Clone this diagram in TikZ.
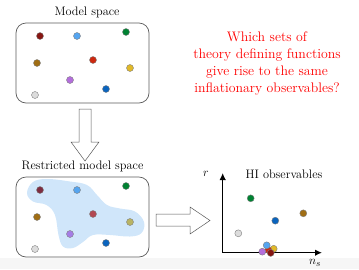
\documentclass[tikz,border=0pt]{standalone}
\usepackage{tikz}
\usetikzlibrary{arrows.meta,positioning,calc}
\usepackage{xcolor}

\definecolor{cdarkred}{RGB}{135,22,18}
\definecolor{clightblue}{RGB}{85,165,240}
\definecolor{cgreen}{RGB}{0,130,50}
\definecolor{cbrown}{RGB}{160,110,20}
\definecolor{cred}{RGB}{205,40,15}
\definecolor{cyellow}{RGB}{225,185,40}
\definecolor{cpurple}{RGB}{180,110,220}
\definecolor{cblue}{RGB}{10,100,190}
\definecolor{cgray}{RGB}{220,220,220}
% tinted by the region
\definecolor{tdarkred}{RGB}{125,45,65}
\definecolor{tred}{RGB}{178,72,82}
\definecolor{tyellow}{RGB}{185,180,100}
\definecolor{tpurple}{RGB}{165,125,230}
\definecolor{blobblue}{RGB}{208,230,250}
\definecolor{edgegray}{RGB}{90,90,90}

\tikzset{
  space/.style={draw=edgegray,line width=0.7pt,rounded corners=10pt,minimum width=133pt,minimum height=80pt,inner sep=0pt},
  ball/.style={circle,draw=gray,line width=0.4pt,inner sep=0pt,minimum size=7pt},
  blockarrow/.style={draw=edgegray,line width=0.5pt,fill=white},
}

\begin{document}
\begin{tikzpicture}[x=1pt,y=-1pt,>=Latex,font=\fontsize{12.3}{14}\selectfont]
\useasboundingbox (0,0) rectangle (359,269);
\fill[gray!7] (0,258) rectangle (359,269);

% model space
\node[space] (model) at (82.5,63) {};
\node[above=1pt of model,xshift=4.5pt] (modellabel) {Model space};
\node[ball,fill=cdarkred] (m1) at (40,36) {};
\node[ball,fill=clightblue] (m2) at (77,36) {};
\node[ball,fill=cgreen] (m3) at (126,32) {};
\node[ball,fill=cbrown] (m4) at (37,63) {};
\node[ball,fill=cred] (m5) at (93,60) {};
\node[ball,fill=cyellow] (m6) at (130,68) {};
\node[ball,fill=cpurple] (m7) at (70,80) {};
\node[ball,fill=cblue] (m8) at (106,89) {};
\node[ball,fill=cgray] (m9) at (35,95) {};

\draw[blockarrow] (79,109) -- (91,109) -- (91,142) -- (99,142) -- (85,161) -- (71,142) -- (79,142) -- cycle;

% restricted model space
\node[space] (restricted) at (82.5,217) {};
\node[above=1pt of restricted] (restrictedlabel) {Restricted model space};
\fill[blobblue] plot[smooth cycle,tension=0.65] coordinates {
  (27,193) (33,182) (47,179) (70,181.5) (87,185) (97,195) (107,205)
  (120,208.5) (135,211.5) (144,222) (141.5,233) (130,236.5) (110,235)
  (93,235) (83,242) (73,248) (63,246.5) (58.5,235) (55,215) (46.5,205) (33,201.5)};
\node[ball,fill=tdarkred] (r1) at (40,190) {};
\node[ball,fill=clightblue] (r2) at (77,190) {};
\node[ball,fill=cgreen] (r3) at (126,186) {};
\node[ball,fill=cbrown] (r4) at (37,217) {};
\node[ball,fill=tred] (r5) at (93,214) {};
\node[ball,fill=tyellow] (r6) at (130,222) {};
\node[ball,fill=tpurple] (r7) at (70,234) {};
\node[ball,fill=cblue] (r8) at (106,243) {};
\node[ball,fill=cgray] (r9) at (35,249) {};

\draw[blockarrow] (156,214) -- (190,214) -- (190,207) -- (210,220.5) -- (190,234) -- (190,226) -- (156,226) -- cycle;

% observables
\coordinate (origin) at (222.7,252.7);
\coordinate (yend) at (222.7,173);
\coordinate (xend) at (322,252.7);
\draw[-{Latex[length=7pt,width=6.5pt]},line width=1.2pt] (origin) -- (yend);
\draw[-{Latex[length=7pt,width=6.5pt]},line width=1.2pt] (origin) -- (xend);
\node (rlabel) at (206,174) {$r$};
\node (nslabel) at (315,263) {$n_s$};
\node (obslabel) at (284,174) {HI observables};
\node[ball,fill=cgreen] (o3) at (250.7,198.3) {};
\node[ball,fill=cbrown] (o4) at (303.3,213.3) {};
\node[ball,fill=cblue] (o8) at (275.3,220.7) {};
\node[ball,fill=cgray] (o9) at (238.3,233.3) {};
\node[ball,fill=cyellow] (o6) at (273.7,248.8) {};
\node[ball,fill=cred] (o5) at (268.3,250) {};
\node[ball,fill=clightblue] (o2) at (266.7,245.3) {};
\node[ball,fill=cpurple] (o7) at (262.3,251.7) {};
\node[ball,fill=cdarkred] (o1) at (270.7,252.9) {};

% question
\node[text=red,align=center,font=\fontsize{13.8}{17}\selectfont] (question) at (267,64) {Which sets of\\theory defining functions\\give rise to the same\\inflationary observables?};
\end{tikzpicture}
\end{document}
